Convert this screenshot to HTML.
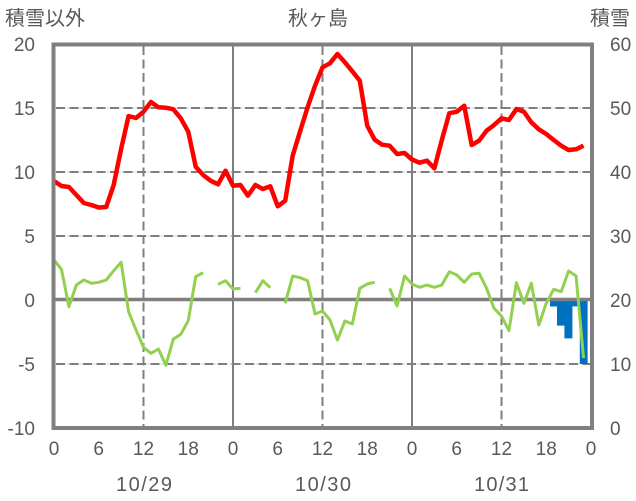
<!DOCTYPE html>
<html><head><meta charset="utf-8"><style>
html,body{margin:0;padding:0;background:#fff;}
svg{display:block;}
text{font-family:"Liberation Sans","Noto Sans CJK JP",sans-serif;fill:#595959;}
</style></head><body>
<svg width="636" height="501" viewBox="0 0 636 501" xmlns="http://www.w3.org/2000/svg">
<rect width="636" height="501" fill="#fff"/>
<g stroke="#d9d9d9" stroke-width="1">
<line x1="54" y1="108" x2="591" y2="108"/><line x1="54" y1="172" x2="591" y2="172"/>
<line x1="54" y1="236" x2="591" y2="236"/><line x1="54" y1="364" x2="591" y2="364"/>
</g>
<g stroke="#7f7f7f" stroke-width="2" stroke-dasharray="9,4.5">
<line x1="56" y1="108" x2="591" y2="108"/><line x1="56" y1="172" x2="591" y2="172"/>
<line x1="56" y1="236" x2="591" y2="236"/><line x1="56" y1="364" x2="591" y2="364"/>
<line x1="143.5" y1="46" x2="143.5" y2="426"/><line x1="322.5" y1="46" x2="322.5" y2="426"/>
<line x1="501.5" y1="46" x2="501.5" y2="426"/>
</g>
<g stroke="#7f7f7f" stroke-width="2">
<line x1="233" y1="44" x2="233" y2="428"/><line x1="412" y1="44" x2="412" y2="428"/>
</g>
<g fill="#0070C0">
<rect x="550" y="300" width="7.3" height="6.5"/>
<rect x="557" y="300" width="7.6" height="25.6"/>
<rect x="564.4" y="300" width="8" height="38.4"/>
<rect x="572.2" y="300" width="7.8" height="6.4"/>
<rect x="579.8" y="300" width="7.8" height="64"/>
</g>
<line x1="54" y1="299.5" x2="591" y2="299.5" stroke="#7f7f7f" stroke-width="3.5"/>
<g fill="none" stroke="#92D050" stroke-width="3" stroke-linejoin="round">
<polyline points="54,260 61.46,269.3 68.92,306.7 76.38,285 83.83,280 91.29,283.3 98.75,282.3 106.21,280 113.67,270.7 121.12,262.3 128.58,311.7 136.04,330 143.5,347.3 150.96,353.3 158.42,349 165.87,365.3 173.33,339 180.79,334.3 188.25,320.7 195.71,276.7 203.17,272.7"/>
<polyline points="218.08,284.3 225.54,280.7 233,289 240.46,288.3"/>
<polyline points="255.37,292.7 262.83,280.7 270.29,287.7"/>
<polyline points="285.21,303.3 292.67,276 300.12,277.7 307.58,280.7 315.04,314 322.5,311 329.96,320 337.42,340 344.87,321 352.33,324 359.79,288.3 367.25,284 374.71,282.3"/>
<polyline points="389.62,288.3 397.08,306 404.54,276 412,284 419.46,287.3 426.92,285 434.37,287.3 441.83,285 449.29,271.7 456.75,275 464.21,282.3 471.67,274 479.12,273.3 486.58,288.3 494.04,308.3 501.5,316 508.96,330.7 516.42,282.7 523.87,303.3 531.33,283.3 538.79,325 546.25,303.3 553.71,289.3 561.17,291.7 568.62,271 576.08,276 583.54,358"/>
</g>
<polyline fill="none" stroke="#FF0000" stroke-width="4.5" stroke-linejoin="round" points="54,181 61.46,186 68.92,187 76.38,195 83.83,203 91.29,205 98.75,207.5 106.21,207 113.67,185 121.12,149 128.58,116 136.04,118 143.5,111.7 150.96,102 158.42,107.3 165.87,107.7 173.33,109.3 180.79,118.3 188.25,131.7 195.71,166.7 203.17,175 210.62,180.7 218.08,184.3 225.54,170.7 233,185.7 240.46,185 247.92,195.7 255.37,185 262.83,189 270.29,186.3 277.75,206.3 285.21,200.7 292.67,155.7 300.12,131.3 307.58,107.3 315.04,85.7 322.5,67.3 329.96,63.3 337.42,54 344.87,62.3 352.33,71.3 359.79,80.7 367.25,125.7 374.71,139.7 382.17,144.7 389.62,145.7 397.08,154 404.54,153 412,159.5 419.46,162.7 426.92,160.7 434.37,168.3 441.83,140 449.29,113.3 456.75,111.7 464.21,105.7 471.67,145 479.12,140.7 486.58,130.7 494.04,125 501.5,118.3 508.96,120 516.42,109 523.87,111.7 531.33,122.3 538.79,129.3 546.25,134 553.71,140 561.17,145.7 568.62,150 576.08,149.3 583.54,145.7"/>
<rect x="53.5" y="44.5" width="538.5" height="383.5" fill="none" stroke="#808080" stroke-width="4"/>
<text x="5" y="25" font-size="20">積雪以外</text>
<text x="318" y="25" font-size="20" text-anchor="middle">秋ヶ島</text>
<text x="590" y="25" font-size="20">積雪</text>
<g font-size="19" text-anchor="end">
<text x="35" y="51">20</text><text x="35" y="115">15</text><text x="35" y="179">10</text>
<text x="35" y="243">5</text><text x="35" y="307">0</text><text x="35" y="371">-5</text><text x="35" y="435">-10</text>
</g>
<g font-size="19">
<text x="610" y="51">60</text><text x="610" y="115">50</text><text x="610" y="179">40</text>
<text x="610" y="243">30</text><text x="610" y="307">20</text><text x="610" y="371">10</text><text x="610" y="435">0</text>
</g>
<g font-size="19" text-anchor="middle">
<text x="54" y="455">0</text><text x="98.7" y="455">6</text><text x="143.5" y="455">12</text><text x="188.2" y="455">18</text>
<text x="233" y="455">0</text><text x="277.7" y="455">6</text><text x="322.5" y="455">12</text><text x="367.2" y="455">18</text>
<text x="412" y="455">0</text><text x="456.7" y="455">6</text><text x="501.5" y="455">12</text><text x="546.2" y="455">18</text>
<text x="591" y="455">0</text>
</g>
<g font-size="20">
<text x="116" y="491" textLength="56" lengthAdjust="spacing">10/29</text>
<text x="295" y="491" textLength="56" lengthAdjust="spacing">10/30</text>
<text x="474" y="491" textLength="55" lengthAdjust="spacing">10/31</text>
</g>
</svg>
</body></html>
